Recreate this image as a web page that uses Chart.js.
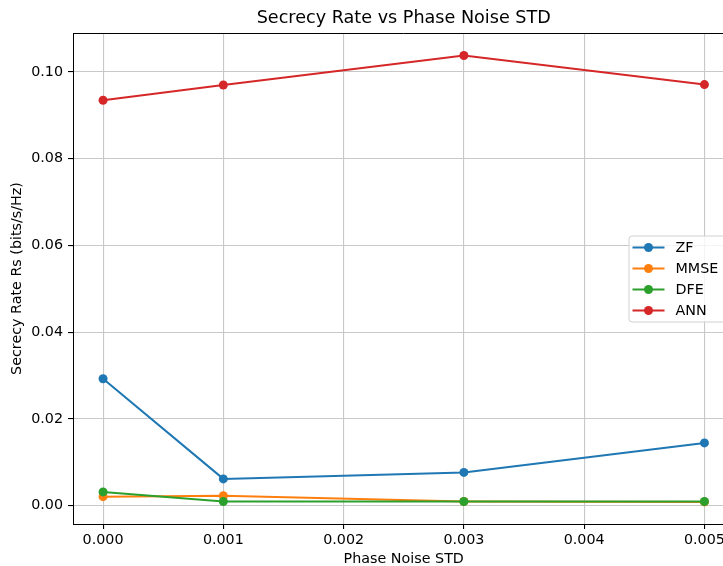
<!DOCTYPE html>
<html>
<head>
<meta charset="utf-8">
<script src="https://cdn.jsdelivr.net/npm/chart.js@4.4.1/dist/chart.umd.min.js"></script>
<style>
    html, body { margin: 0; padding: 0; background: #fff; overflow: hidden; }
    #wrap { width: 739px; height: 566px; }
</style>
</head>
<body>
<div id="wrap"><canvas id="rateChart" width="739" height="566"></canvas></div>
<script>
// ========== 数据 ==========
const phaseNoise = [0.000, 0.001, 0.003, 0.005];
const zfRate   = [0.0293, 0.0062, 0.0077, 0.0145];
const mmseRate = [0.0021, 0.0023, 0.0010, 0.0009];
const dfeRate  = [0.0032, 0.0010, 0.0010, 0.0010];
const annRate  = [0.0935, 0.0970, 0.1038, 0.0971];

const xTicks = [0.000, 0.001, 0.002, 0.003, 0.004, 0.005];
const yTicks = [0.00, 0.02, 0.04, 0.06, 0.08, 0.10];

const seriesNames  = ['ZF', 'MMSE', 'DFE', 'ANN'];
const seriesValues = [zfRate, mmseRate, dfeRate, annRate];
const seriesColors = ['#1f77b4', '#ff7f0e', '#2ca02c', '#d62728'];

const chartTitle = 'Secrecy Rate vs Phase Noise STD';

const FONT = "'DejaVu Sans', sans-serif";
const LABEL_SIZE = 14.3;

// ========== 标题（居中于绘图区） ==========
const areaTitle = {
    id: 'areaTitle',
    afterDraw(chart) {
        const ctx = chart.ctx;
        const a = chart.chartArea;
        ctx.save();
        ctx.font = '17.6px ' + FONT;
        ctx.fillStyle = '#000';
        ctx.textAlign = 'center';
        ctx.textBaseline = 'middle';
        ctx.fillText(chartTitle, (a.left + a.right) / 2, a.top - 15);
        ctx.restore();
    }
};

// ========== 图例（右侧居中，matplotlib 风格） ==========
const boxLegend = {
    id: 'boxLegend',
    afterDraw(chart) {
        const ctx = chart.ctx;
        const area = chart.chartArea;
        const boxW = 97, boxH = 86, rowH = 21;
        const x0 = area.right - 9 - boxW;
        const y0 = (area.top + area.bottom) / 2 - boxH / 2;

        ctx.save();
        ctx.fillStyle = 'rgba(255,255,255,0.8)';
        ctx.strokeStyle = '#d0d0d0';
        ctx.lineWidth = 1;
        ctx.beginPath();
        ctx.roundRect(x0 + 0.5, y0 + 0.5, boxW, boxH, 3);
        ctx.fill();
        ctx.stroke();

        ctx.font = LABEL_SIZE + 'px ' + FONT;
        ctx.textBaseline = 'middle';
        chart.data.datasets.forEach((ds, i) => {
            const cy = y0 + 12 + i * rowH;
            ctx.strokeStyle = ds.borderColor;
            ctx.lineWidth = 2;
            ctx.beginPath();
            ctx.moveTo(x0 + 4, cy);
            ctx.lineTo(x0 + 36, cy);
            ctx.stroke();
            ctx.fillStyle = ds.borderColor;
            ctx.beginPath();
            ctx.arc(x0 + 20, cy, 4.5, 0, Math.PI * 2);
            ctx.fill();
            ctx.fillStyle = '#000';
            ctx.fillText(ds.label, x0 + 47, cy + 1);
        });
        ctx.restore();
    }
};

// 上边框
const topSpine = {
    id: 'topSpine',
    afterDraw(chart) {
        const ctx = chart.ctx;
        const a = chart.chartArea;
        ctx.save();
        ctx.strokeStyle = '#000';
        ctx.lineWidth = 1;
        ctx.beginPath();
        ctx.moveTo(a.left, a.top + 0.5);
        ctx.lineTo(a.right, a.top + 0.5);
        ctx.stroke();
        ctx.restore();
    }
};

const ctx = document.getElementById('rateChart').getContext('2d');

new Chart(ctx, {
    type: 'line',
    data: {
        datasets: seriesNames.map((name, i) => ({
            label: name,
            data: phaseNoise.map((x, j) => ({ x: x, y: seriesValues[i][j] })),
            borderColor: seriesColors[i],
            backgroundColor: seriesColors[i],
            pointBackgroundColor: seriesColors[i],
            pointBorderWidth: 0,
            pointRadius: 4.5,
            borderWidth: 2,
            tension: 0,
            fill: false,
            order: seriesNames.length - i
        }))
    },
    options: {
        responsive: false,
        animation: false,
        layout: { padding: { top: 33, left: 0, right: 0, bottom: 0 } },
        scales: {
            x: {
                type: 'linear',
                min: -0.00025,
                max: 0.00525,
                afterBuildTicks: s => { s.ticks = xTicks.map(v => ({ value: v })); },
                afterFit: s => { s.height = 42; s.paddingLeft = 0; s.paddingRight = 0; },
                ticks: {
                    color: '#000',
                    font: { family: FONT, size: LABEL_SIZE },
                    padding: 3,
                    maxRotation: 0,
                    callback: v => v.toFixed(3)
                },
                grid: { color: '#c8c8c8', lineWidth: 1.1, tickColor: '#000', tickLength: 5 },
                border: { color: '#000', width: 1 },
                title: {
                    display: true,
                    text: 'Phase Noise STD',
                    color: '#000',
                    font: { family: FONT, size: LABEL_SIZE, lineHeight: 1 },
                    padding: { top: 0, bottom: 0 }
                }
            },
            y: {
                type: 'linear',
                min: -0.0042,
                max: 0.109,
                afterBuildTicks: s => { s.ticks = yTicks.map(v => ({ value: v })); },
                afterFit: s => { s.width = 73; s.paddingTop = 0; s.paddingBottom = 0; },
                ticks: {
                    color: '#000',
                    font: { family: FONT, size: LABEL_SIZE },
                    padding: 5,
                    callback: v => v.toFixed(2)
                },
                grid: { color: '#c8c8c8', lineWidth: 1.1, tickColor: '#000', tickLength: 5 },
                border: { color: '#000', width: 1 },
                title: {
                    display: true,
                    text: 'Secrecy Rate Rs (bits/s/Hz)',
                    color: '#000',
                    font: { family: FONT, size: LABEL_SIZE, lineHeight: 1 },
                    padding: { top: 10, bottom: 0 }
                }
            }
        },
        plugins: {
            legend: { display: false },
            tooltip: { enabled: false },
            title: { display: false }
        }
    },
    plugins: [topSpine, areaTitle, boxLegend]
});
</script>
</body>
</html>
